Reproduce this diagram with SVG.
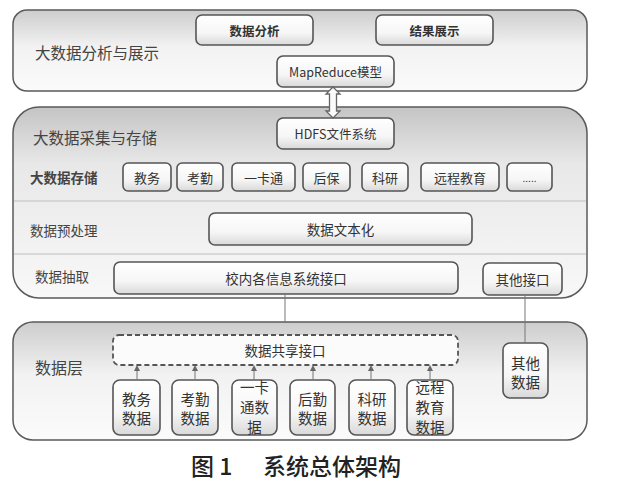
<svg xmlns="http://www.w3.org/2000/svg" width="620" height="486" viewBox="0 0 620 486">
<defs>
<linearGradient id="gPanel" x1="0" y1="0" x2="0" y2="1">
<stop offset="0" stop-color="#cdcdcd"/><stop offset="0.45" stop-color="#f2f2f2"/><stop offset="1" stop-color="#fbfbfb"/>
</linearGradient>
<linearGradient id="gPanel2" x1="0" y1="0" x2="0" y2="1">
<stop offset="0" stop-color="#c4c4c4"/><stop offset="0.3" stop-color="#e8e8e8"/><stop offset="1" stop-color="#f8f8f8"/>
</linearGradient>
<linearGradient id="gBox" x1="0" y1="0" x2="0" y2="1">
<stop offset="0" stop-color="#ffffff"/><stop offset="0.6" stop-color="#f6f6f6"/><stop offset="1" stop-color="#d9d9d9"/>
</linearGradient>
<marker id="ah" markerWidth="6" markerHeight="6" refX="3" refY="3" orient="auto">
<path d="M0,0 L6,3 L0,6 Z" fill="#666"/>
</marker>
</defs>
<style>
.panel{stroke:#5a5a5a;stroke-width:1.5}
.box{fill:url(#gBox);stroke:#555;stroke-width:1.6}
.t{font-family:"Noto Sans CJK SC","Noto Sans",sans-serif;fill:#333;text-anchor:middle;dominant-baseline:central}
.lbl{font-family:"Noto Sans CJK SC",sans-serif;fill:#444;dominant-baseline:central}
.sep{stroke:#bdbdbd;stroke-width:1.2}
.conn{stroke:#777;stroke-width:1;fill:none}
.cap{font-family:"Noto Sans CJK SC",sans-serif;font-size:23px;font-weight:500;fill:#222;dominant-baseline:central}
</style>

<g id="panel-analysis">
<rect class="panel" x="13" y="10" width="574" height="81" rx="14" fill="url(#gPanel)"/>
<text class="lbl" x="35" y="52" font-size="15.5">大数据分析与展示</text>
</g>
<g id="node-shujufenxi">
<rect class="box" x="196" y="15" width="117" height="30" rx="6"/>
<text class="t" x="254.5" y="30" font-size="12.5" font-weight="bold">数据分析</text>
</g>
<g id="node-jieguozhanshi">
<rect class="box" x="376" y="15" width="117" height="30" rx="6"/>
<text class="t" x="434.5" y="30" font-size="12.5" font-weight="bold">结果展示</text>
</g>
<g id="node-mapreduce">
<rect class="box" x="277" y="56" width="117" height="31" rx="6"/>
<text class="t" x="335.5" y="71.5" font-size="12.5">MapReduce模型</text>
</g>

<g id="panel-storage">
<rect class="panel" x="13" y="107" width="574" height="191" rx="26" fill="url(#gPanel2)"/>
<text class="lbl" x="33" y="137" font-size="15.5">大数据采集与存储</text>
<line class="sep" x1="14" y1="201" x2="586" y2="201"/>
<line class="sep" x1="14" y1="254" x2="586" y2="254"/>
<text class="lbl" x="30" y="177" font-size="13.5" font-weight="bold">大数据存储</text>
<text class="lbl" x="30" y="230" font-size="13.5">数据预处理</text>
<text class="lbl" x="35" y="276" font-size="13.5">数据抽取</text>
</g>
<g id="node-hdfs">
<rect class="box" x="277" y="118" width="117" height="31" rx="6"/>
<text class="t" x="335.5" y="133.5" font-size="12.5">HDFS文件系统</text>
</g>
<g id="node-jiaowu">
<rect class="box" x="123" y="163" width="48" height="28" rx="5"/>
<text class="t" x="147" y="177" font-size="13">教务</text>
</g>
<g id="node-kaoqin">
<rect class="box" x="177" y="163" width="46" height="28" rx="5"/>
<text class="t" x="200" y="177" font-size="13">考勤</text>
</g>
<g id="node-yikatong">
<rect class="box" x="232" y="163" width="63" height="28" rx="5"/>
<text class="t" x="263.5" y="177" font-size="13">一卡通</text>
</g>
<g id="node-houbao">
<rect class="box" x="303" y="163" width="47" height="28" rx="5"/>
<text class="t" x="326.5" y="177" font-size="13">后保</text>
</g>
<g id="node-keyan">
<rect class="box" x="362" y="163" width="46" height="28" rx="5"/>
<text class="t" x="385" y="177" font-size="13">科研</text>
</g>
<g id="node-yuancheng">
<rect class="box" x="421" y="163" width="78" height="28" rx="5"/>
<text class="t" x="460" y="177" font-size="13">远程教育</text>
</g>
<g id="node-more">
<rect class="box" x="507" y="163" width="45" height="28" rx="5"/>
<text class="t" x="529.5" y="177" font-size="10">.....</text>
</g>
<g id="node-wenbenhua">
<rect class="box" x="209" y="213" width="263" height="32" rx="6"/>
<text class="t" x="340.5" y="229" font-size="13.5">数据文本化</text>
</g>
<g id="node-xiaonei">
<rect class="box" x="114" y="262" width="344" height="32" rx="6"/>
<text class="t" x="286" y="278" font-size="13.5">校内各信息系统接口</text>
</g>
<g id="node-qitajiekou">
<rect class="box" x="483" y="263" width="79" height="32" rx="6"/>
<text class="t" x="522.5" y="279" font-size="13.5">其他接口</text>
</g>

<g id="panel-data">
<rect class="panel" x="13" y="322" width="574" height="118" rx="20" fill="url(#gPanel)"/>
<text class="lbl" x="35" y="367" font-size="16">数据层</text>
</g>
<g id="node-gongxiang">
<rect x="113" y="335" width="345" height="30" rx="6" fill="#fbfbfb" stroke="#555" stroke-width="1.8" stroke-dasharray="5,3"/>
<text class="t" x="285" y="350" font-size="13.5">数据共享接口</text>
</g>
<g id="node-jiaowushuju">
<rect class="box" x="113" y="380" width="47" height="55" rx="7"/>
<text class="t" x="136.5" y="398" font-size="14.5">教务</text>
<text class="t" x="136.5" y="417" font-size="14.5">数据</text>
</g>
<g id="node-kaoqinshuju">
<rect class="box" x="172" y="380" width="46" height="55" rx="7"/>
<text class="t" x="195" y="398" font-size="14.5">考勤</text>
<text class="t" x="195" y="417" font-size="14.5">数据</text>
</g>
<g id="node-yikatongshuju">
<rect class="box" x="232" y="380" width="45" height="55" rx="7"/>
<text class="t" x="254.5" y="386" font-size="14.5">一卡</text>
<text class="t" x="254.5" y="406" font-size="14.5">通数</text>
<text class="t" x="254.5" y="426" font-size="14.5">据</text>
</g>
<g id="node-houqinshuju">
<rect class="box" x="290" y="380" width="45" height="55" rx="7"/>
<text class="t" x="312.5" y="398" font-size="14.5">后勤</text>
<text class="t" x="312.5" y="417" font-size="14.5">数据</text>
</g>
<g id="node-keyanshuju">
<rect class="box" x="349" y="380" width="46" height="55" rx="7"/>
<text class="t" x="372" y="398" font-size="14.5">科研</text>
<text class="t" x="372" y="417" font-size="14.5">数据</text>
</g>
<g id="node-yuanchengshuju">
<rect class="box" x="407" y="380" width="46" height="55" rx="7"/>
<text class="t" x="430" y="386" font-size="14.5">远程</text>
<text class="t" x="430" y="406" font-size="14.5">教育</text>
<text class="t" x="430" y="426" font-size="14.5">数据</text>
</g>
<g id="node-qitashuju">
<rect class="box" x="503" y="343" width="45" height="55" rx="7"/>
<text class="t" x="525.5" y="362" font-size="14.5">其他</text>
<text class="t" x="525.5" y="381" font-size="14.5">数据</text>
</g>

<g id="connectors">
<path d="M333,87 L340,94 L336.5,94 L336.5,111 L340,111 L333,118 L326,111 L329.5,111 L329.5,94 L326,94 Z" fill="#fafafa" stroke="#666" stroke-width="1.3"/>
<line class="conn" x1="285" y1="294" x2="285" y2="322"/>
<line class="conn" x1="525" y1="295" x2="525" y2="343"/>
<line class="conn" x1="137" y1="380" x2="137" y2="368" marker-end="url(#ah)"/>
<line class="conn" x1="195" y1="380" x2="195" y2="368" marker-end="url(#ah)"/>
<line class="conn" x1="254" y1="380" x2="254" y2="368" marker-end="url(#ah)"/>
<line class="conn" x1="313" y1="380" x2="313" y2="368" marker-end="url(#ah)"/>
<line class="conn" x1="371" y1="380" x2="371" y2="368" marker-end="url(#ah)"/>
<line class="conn" x1="430" y1="380" x2="430" y2="368" marker-end="url(#ah)"/>
</g>

<g id="caption">
<text class="cap" x="191" y="465">图 1</text>
<text class="cap" x="263" y="465">系统总体架构</text>
</g>
</svg>
